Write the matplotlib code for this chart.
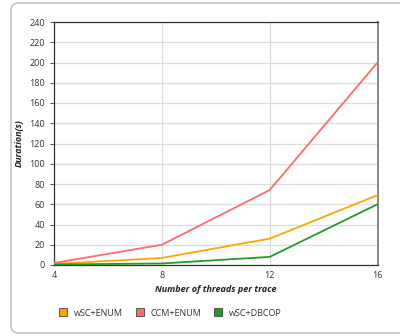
import matplotlib
matplotlib.use("Agg")
import matplotlib.pyplot as plt
from matplotlib.patches import FancyBboxPatch
from matplotlib.lines import Line2D

threads = [4, 8, 12, 16]
wsc_enum = [1, 7, 26, 69]
ccm_enum = [2, 20, 74, 200]
wsc_dbcop = [0.5, 1.5, 8, 60]

series = [
    ("wSC+ENUM", wsc_enum, "#ffa500"),
    ("CCM+ENUM", ccm_enum, "#ff6b6b"),
    ("wSC+DBCOP", wsc_dbcop, "#1f9e1f"),
]

plt.rcParams["font.family"] = ["Open Sans", "DejaVu Sans"]

fig = plt.figure(figsize=(4, 3.36), dpi=100)

# card background with rounded corners
card = FancyBboxPatch((11 / 400, 3 / 336), 420 / 400, 330 / 336,
                      boxstyle="round,pad=0,rounding_size=0.02",
                      transform=fig.transFigure, facecolor="white",
                      edgecolor="#b5b5b5", linewidth=0.9, zorder=-10)
fig.patches.append(card)

ax = fig.add_axes([54 / 400, 1 - 265 / 336, (377.5 - 54) / 400, (265 - 22) / 336])
ax.set_facecolor("none")

for name, vals, color in series:
    ax.plot(threads, vals, color=color, linewidth=1.3, label=name, zorder=3)

ax.set_xlim(4, 16)
ax.set_ylim(0, 240)
ax.set_xticks(threads)
ax.set_yticks(range(0, 241, 20))
ax.grid(True, color="#dddddd", linewidth=0.9)
ax.tick_params(labelsize=6.5, colors="#333333", length=3, width=0.6)
ax.tick_params(axis="x", length=0, pad=4)

for side in ["left", "top", "bottom"]:
    ax.spines[side].set_color("#333333")
    ax.spines[side].set_linewidth(0.9)
ax.spines["right"].set_color("#888888")
ax.spines["right"].set_linewidth(1.4)

ax.set_xlabel("Number of threads per trace", fontsize=6.5, fontweight="bold",
              fontstyle="italic", color="#222222", labelpad=4)
ax.set_ylabel("Duration(s)", fontsize=6.5, fontweight="bold",
              fontstyle="italic", color="#222222", labelpad=4)

handles = [Line2D([], [], marker="s", linestyle="none", markersize=6,
                  markerfacecolor=c, markeredgecolor="#444444", markeredgewidth=0.6)
           for _, _, c in series]
fig.legend(handles, [s[0] for s in series], loc="center", ncol=3,
           bbox_to_anchor=(0.42, 1 - 313 / 336), frameon=False, fontsize=6.5,
           handletextpad=0.2, columnspacing=0.85, labelcolor="#333333")

fig.savefig("out.png", dpi=100)
